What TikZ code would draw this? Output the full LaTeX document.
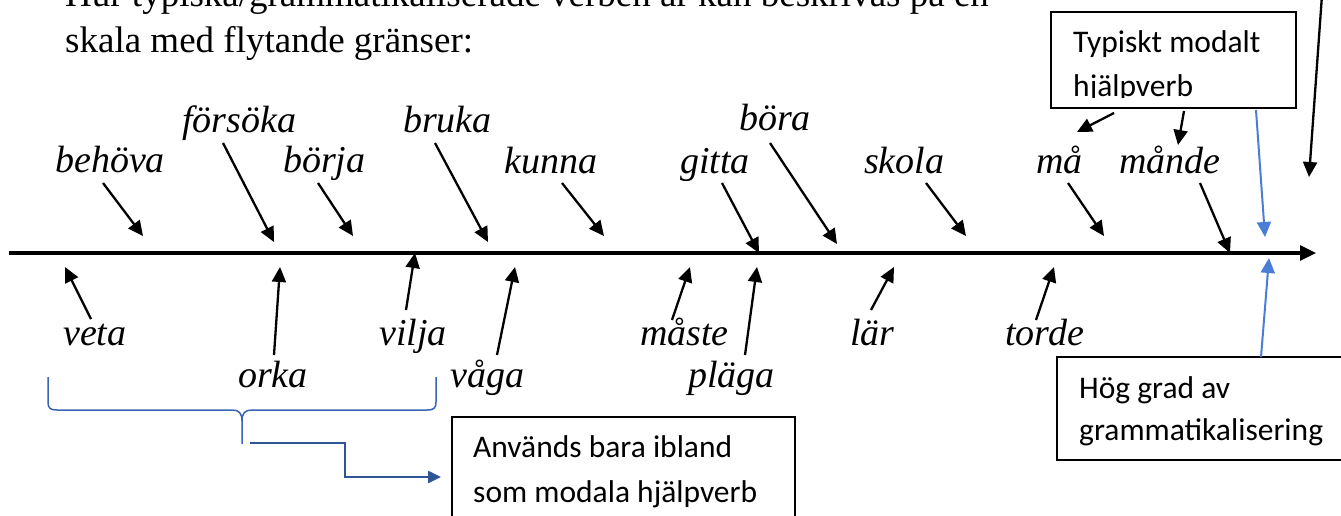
\documentclass[tikz,border=0pt]{standalone}
\usepackage{fontspec}
\setmainfont{Liberation Serif}
\newfontfamily\carlito{Carlito}
\usetikzlibrary{arrows.meta}
\definecolor{bracecol}{RGB}{58,100,180}
\definecolor{conncol}{RGB}{47,85,151}
\definecolor{lightblue}{RGB}{74,126,214}
\tikzset{
  verb/.style={inner sep=0pt, anchor=base west, font=\fontsize{38}{44}\selectfont\itshape},
  darr/.style={line width=2.3pt, -{Triangle[length=15pt,width=14pt]}},
  barr/.style={line width=2pt, lightblue, -{Triangle[length=15pt,width=14pt]}},
  boxtext/.style={inner sep=0pt, anchor=base west, font=\carlito\fontsize{31.5}{43}\selectfont},
  frame/.style={line width=1.4pt, draw=black}
}
\begin{document}
\begin{tikzpicture}[x=1pt,y=-1pt]
\useasboundingbox (0,0) rectangle (1341,516);
\clip (0,0) rectangle (1341,516);

% intro text
\node[inner sep=0pt, anchor=base west, font=\fontsize{37}{46}\selectfont] (intro1) at (65,7) {Hur typiska/grammatikaliserade verben är kan beskrivas på en};
\node[inner sep=0pt, anchor=base west, font=\fontsize{37}{46}\selectfont] (intro2) at (65,53) {skala med flytande gränser:};

% axis
\coordinate (axL) at (9,253);
\coordinate (axR) at (1316,253);
\draw[line width=3.2pt, -{Triangle[length=16pt,width=15pt]}] (axL) -- (axR);

% words above
\node[verb] (behova) at (55,172) {behöva};
\node[verb] (forsoka) at (182,132) {försöka};
\node[verb] (borja) at (283,172) {börja};
\node[verb] (bruka) at (403,132) {bruka};
\node[verb] (kunna) at (504,173) {kunna};
\node[verb] (gitta) at (680,173) {gitta};
\node[verb] (bora) at (739,131) {böra};
\node[verb] (skola) at (864,173) {skola};
\node[verb] (ma) at (1036,173) {må};
\node[verb] (mande) at (1119,173) {månde};

% words below
\node[verb] (veta) at (63,345) {veta};
\node[verb] (orka) at (238,387) {orka};
\node[verb] (vilja) at (379,345) {vilja};
\node[verb] (vaga) at (450,387) {våga};
\node[verb] (maste) at (640,345) {måste};
\node[verb] (plaga) at (688,387) {pläga};
\node[verb] (lar) at (850,345) {lär};
\node[verb] (torde) at (1005,345) {torde};

% arrow coordinates (tails and tips)
\coordinate (behovaT) at (103,183); \coordinate (behovaH) at (143,236);
\coordinate (forsokaT) at (223,143); \coordinate (forsokaH) at (274,242);
\coordinate (borjaT) at (318,183); \coordinate (borjaH) at (353,236);
\coordinate (brukaT) at (435,143); \coordinate (brukaH) at (488,242);
\coordinate (kunnaT) at (562,183); \coordinate (kunnaH) at (604,236);
\coordinate (gittaT) at (722,183); \coordinate (gittaH) at (759,253);
\coordinate (boraT) at (770,143); \coordinate (boraH) at (837,244);
\coordinate (skolaT) at (926,183); \coordinate (skolaH) at (966,236);
\coordinate (maT) at (1068,183); \coordinate (maH) at (1104,236);
\coordinate (mandeT) at (1200,183); \coordinate (mandeH) at (1230,253);

\coordinate (vetaT) at (91,319); \coordinate (vetaH) at (65,267);
\coordinate (orkaT) at (274,355); \coordinate (orkaH) at (280,267);
\coordinate (viljaT) at (406,310); \coordinate (viljaH) at (415,253);
\coordinate (vagaT) at (497,355); \coordinate (vagaH) at (515,267);
\coordinate (masteT) at (672,320); \coordinate (masteH) at (690,267);
\coordinate (plagaT) at (745,355); \coordinate (plagaH) at (757,267);
\coordinate (larT) at (871,310); \coordinate (larH) at (894,267);
\coordinate (tordeT) at (1036,320); \coordinate (tordeH) at (1054,267);

\foreach \w in {behova,forsoka,borja,bruka,kunna,gitta,bora,skola,ma,mande,veta,orka,vilja,vaga,maste,plaga,lar,torde}
  \draw[darr] (\w T) -- (\w H);

% box: Typiskt modalt hjälpverb
\begin{scope}
  \clip (1051,12) rectangle (1296,98);
  \node[boxtext] (typ1) at (1073,53) {Typiskt modalt};
  \node[boxtext] (typ2) at (1073,97) {hjälpverb};
\end{scope}
\draw[frame] (1051,12) rectangle (1296,108);
\coordinate (typA) at (1114,113); \coordinate (typAH) at (1077,132);
\coordinate (typB) at (1184,111); \coordinate (typBH) at (1178,145);
\coordinate (typC) at (1256,110); \coordinate (typCH) at (1265,237);
\draw[darr] (typA) -- (typAH);
\draw[darr] (typB) -- (typBH);
\draw[barr] (typC) -- (typCH);

% long arrow from top right
\coordinate (topS) at (1322,-5); \coordinate (topH) at (1309,177);
\draw[darr] (topS) -- (topH);

% box: Hög grad av grammatikalisering
\draw[frame] (1057,357) rectangle (1350,460);
\node[boxtext] (hog1) at (1079,398) {Hög grad av};
\node[boxtext] (hog2) at (1079,440) {grammatikalisering};
\coordinate (hogT) at (1261,357); \coordinate (hogH) at (1269,258);
\draw[barr] (hogT) -- (hogH);

% box: Används bara ibland
\draw[frame] (452,417) rectangle (795,530);
\node[boxtext] (anv1) at (473,457) {Används bara ibland};
\node[boxtext] (anv2) at (473,502) {som modala hjälpverb};

% brace
\draw[bracecol, line width=1.5pt]
  (48,377) -- (48,402) .. controls (48,408) and (50,410) .. (57,410)
  -- (232,410) .. controls (239,410) and (242,413) .. (242,421) -- (242,444);
\draw[bracecol, line width=1.5pt]
  (436,377) -- (436,402) .. controls (436,408) and (434,410) .. (427,410)
  -- (252,410) .. controls (245,410) and (242,413) .. (242,421);

% connector brace -> box
\coordinate (brC) at (250,443);
\coordinate (brE) at (441,477);
\draw[conncol, line width=2.5pt, -{Triangle[length=13pt,width=12pt]}]
  (brC) -- (345,443) -- (345,477) -- (brE);
\end{tikzpicture}
\end{document}
